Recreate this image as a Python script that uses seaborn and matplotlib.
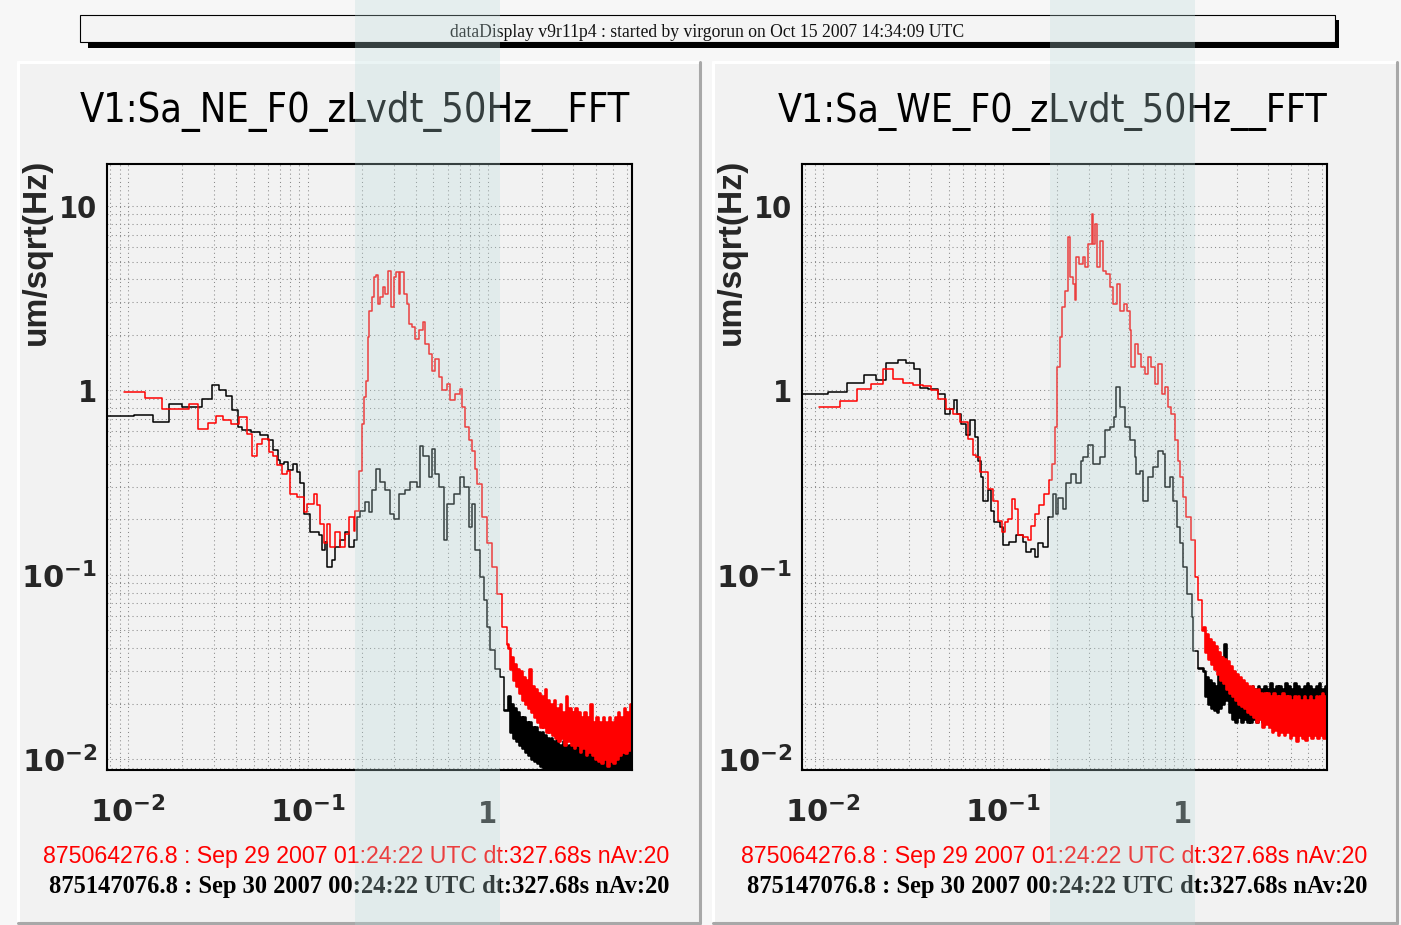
import matplotlib
matplotlib.use("Agg")
import numpy as np
import pandas as pd
import seaborn as sns
import matplotlib.pyplot as plt
from matplotlib import font_manager as fm
from matplotlib.patches import Rectangle
from matplotlib.lines import Line2D
from matplotlib.ticker import FixedLocator, FixedFormatter, LogLocator, NullFormatter

# ---------------------------------------------------------------- data
HEADER = "dataDisplay v9r11p4 : started by virgorun on Oct 15 2007 14:34:09 UTC"
TITLES = ["V1:Sa_NE_F0_zLvdt_50Hz__FFT", "V1:Sa_WE_F0_zLvdt_50Hz__FFT"]
REF_LINE = "875064276.8 : Sep 29 2007 01:24:22 UTC dt:327.68s nAv:20"
CUR_LINE = "875147076.8 : Sep 30 2007 00:24:22 UTC dt:327.68s nAv:20"
Y_LABEL = "um/sqrt(Hz)"

X_MAJOR = [0.01, 0.1, 1.0]
X_LABELS = [r"$\mathbf{10^{-2}}$", r"$\mathbf{10^{-1}}$", "1"]
Y_MAJOR = [0.01, 0.1, 1.0, 10.0]
Y_LABELS = [r"$\mathbf{10^{-2}}$", r"$\mathbf{10^{-1}}$", "1", "10"]

# NE sensor, Sep 30 spectrum (black)
ne_black_hz = [0.00765, 0.0108, 0.0137, 0.0169, 0.0200, 0.0259, 0.0294, 0.0323, 0.0352, 0.0380,
               0.0408, 0.0432, 0.0481, 0.0546, 0.0600, 0.0640, 0.0680, 0.0705, 0.0740, 0.0780,
               0.0830, 0.0873, 0.0911, 0.0950, 0.1035, 0.1150, 0.1200, 0.1240, 0.1280, 0.1370,
               0.1425, 0.1520, 0.1620, 0.1690, 0.1800, 0.1880, 0.1960, 0.2090, 0.2180, 0.2280,
               0.2410, 0.2530, 0.2700, 0.2880, 0.3010, 0.3200, 0.3490, 0.3720, 0.4050, 0.4230,
               0.4400, 0.4700, 0.4910, 0.5120, 0.5340, 0.5690, 0.5950, 0.6480, 0.7050, 0.7360,
               0.7840, 0.8190, 0.8550, 0.9110, 0.9500, 0.9920, 1.0350, 1.1000, 1.1800, 1.2300]
ne_black_amp = [0.726, 0.738, 0.673, 0.847, 0.812, 0.900, 1.065, 1.000, 0.928, 0.780,
                0.632, 0.607, 0.594, 0.570, 0.536, 0.473, 0.420, 0.400, 0.410, 0.370,
                0.400, 0.360, 0.313, 0.215, 0.170, 0.164, 0.136, 0.150, 0.110, 0.120,
                0.141, 0.154, 0.170, 0.141, 0.154, 0.205, 0.223, 0.248, 0.219, 0.287,
                0.376, 0.318, 0.287, 0.214, 0.201, 0.275, 0.287, 0.318, 0.299, 0.500,
                0.440, 0.339, 0.483, 0.354, 0.299, 0.154, 0.243, 0.275, 0.339, 0.300,
                0.181, 0.243, 0.136, 0.097, 0.0727, 0.052, 0.039, 0.031, 0.028, 0.0185]

# NE sensor, Sep 29 spectrum (red)
ne_red_hz = [0.0095, 0.0125, 0.0155, 0.0218, 0.0246, 0.0278, 0.0307, 0.0339, 0.0372, 0.0414,
             0.0460, 0.0487, 0.0524, 0.0557, 0.0607, 0.0640, 0.0676, 0.0721, 0.0770, 0.0801,
             0.0873, 0.0950, 0.0992, 0.1080, 0.1126, 0.1176, 0.1228, 0.1280, 0.1337, 0.1425,
             0.1520, 0.1620, 0.1690, 0.1800, 0.1840, 0.1920, 0.2004, 0.2064, 0.2117, 0.2161,
             0.2205, 0.2277, 0.2325, 0.2397, 0.2450, 0.2533, 0.2620, 0.2700, 0.2812, 0.2904,
             0.3004, 0.3107, 0.3205, 0.3275, 0.3415, 0.3566, 0.3637, 0.3797, 0.3966, 0.4138,
             0.4372, 0.4507, 0.4702, 0.4910, 0.5126, 0.5343, 0.5580, 0.5946, 0.6206, 0.6614,
             0.6988, 0.7205, 0.7518, 0.7843, 0.8190, 0.8544, 0.8728, 0.9309, 0.9923, 1.058,
             1.128, 1.202, 1.281]
ne_red_amp = [0.979, 0.912, 0.795, 0.847, 0.620, 0.665, 0.726, 0.694, 0.660, 0.716,
              0.582, 0.439, 0.514, 0.543, 0.463, 0.440, 0.392, 0.353, 0.368, 0.275,
              0.264, 0.219, 0.243, 0.275, 0.238, 0.189, 0.148, 0.189, 0.141, 0.170,
              0.141, 0.167, 0.205, 0.174, 0.223, 0.368, 0.660, 0.920, 1.13, 1.95,
              2.71, 3.20, 4.12, 4.21, 2.95, 3.20, 3.63, 3.34, 4.47, 2.83,
              4.12, 4.38, 3.34, 4.38, 3.34, 2.95, 2.30, 2.20, 1.91, 2.12,
              2.35, 1.79, 1.58, 1.28, 1.49, 1.18, 1.00, 1.09, 0.883, 0.96,
              1.02, 0.812, 0.632, 0.536, 0.472, 0.376, 0.312, 0.205, 0.148, 0.110,
              0.079, 0.052, 0.042]

# WE sensor, Sep 30 spectrum (black)
we_black_hz = [0.00765, 0.0107, 0.0136, 0.0169, 0.0198, 0.0225, 0.0261, 0.0291, 0.0320, 0.0348,
               0.0384, 0.0437, 0.0476, 0.0507, 0.0534, 0.0556, 0.0589, 0.0627, 0.0661, 0.0697,
               0.0727, 0.0760, 0.0775, 0.0830, 0.0862, 0.0900, 0.0962, 0.1000, 0.1090, 0.1190,
               0.1300, 0.1350, 0.1440, 0.1510, 0.1570, 0.1670, 0.1780, 0.1900, 0.1990, 0.2040,
               0.2166, 0.2262, 0.2410, 0.2568, 0.2737, 0.2794, 0.2978, 0.3174, 0.3461, 0.3689,
               0.3931, 0.4138, 0.4288, 0.4480, 0.4775, 0.5089, 0.5424, 0.5541, 0.5781, 0.6031,
               0.6427, 0.6850, 0.7300, 0.7780, 0.7971, 0.8495, 0.8865, 0.9261, 0.9660, 1.008,
               1.053, 1.122, 1.146, 1.221]
we_black_amp = [0.951, 0.979, 1.095, 1.22, 1.14, 1.41, 1.47, 1.41, 1.30, 1.03,
                1.02, 0.96, 0.741, 0.795, 0.89, 0.747, 0.66, 0.57, 0.688, 0.558,
                0.417, 0.339, 0.253, 0.287, 0.223, 0.193, 0.181, 0.145, 0.150, 0.164,
                0.150, 0.133, 0.138, 0.125, 0.148, 0.141, 0.205, 0.275, 0.214, 0.260,
                0.229, 0.313, 0.353, 0.313, 0.417, 0.435, 0.503, 0.400, 0.435, 0.607,
                0.632, 0.716, 1.04, 0.812, 0.632, 0.536, 0.435, 0.353, 0.368, 0.253,
                0.339, 0.384, 0.472, 0.453, 0.299, 0.339, 0.253, 0.181, 0.148, 0.110,
                0.079, 0.0594, 0.0389, 0.0314]

# WE sensor, Sep 29 spectrum (red)
we_red_hz = [0.0095, 0.0125, 0.0155, 0.0186, 0.0216, 0.0245, 0.0279, 0.0317, 0.0360, 0.0400,
             0.0436, 0.0482, 0.0529, 0.0576, 0.0642, 0.0683, 0.0713, 0.0745, 0.0830, 0.0884,
             0.0944, 0.0986, 0.1030, 0.1070, 0.1120, 0.1170, 0.1220, 0.1300, 0.1390, 0.1440,
             0.1510, 0.1600, 0.1700, 0.1800, 0.1870, 0.1950, 0.2000, 0.2076, 0.2134, 0.2216,
             0.2310, 0.2380, 0.2460, 0.2513, 0.2570, 0.2660, 0.2780, 0.2860, 0.2980, 0.3120,
             0.3190, 0.3260, 0.3350, 0.3470, 0.3610, 0.3770, 0.3940, 0.4110, 0.4320, 0.4480,
             0.4710, 0.4920, 0.5090, 0.5200, 0.5430, 0.5660, 0.5900, 0.6170, 0.6440, 0.6720,
             0.7010, 0.7320, 0.7640, 0.7970, 0.8320, 0.8680, 0.9060, 0.9450, 0.9660, 1.008,
             1.050, 1.120, 1.170, 1.220, 1.280]
we_red_amp = [0.812, 0.875, 1.02, 1.09, 1.31, 1.16, 1.10, 1.07, 1.06, 1.00,
              0.90, 0.795, 0.747, 0.673, 0.547, 0.444, 0.435, 0.360, 0.293, 0.253,
              0.197, 0.170, 0.193, 0.201, 0.258, 0.228, 0.164, 0.160, 0.154, 0.185,
              0.214, 0.238, 0.275, 0.325, 0.400, 0.632, 1.34, 1.95, 2.83, 3.48,
              6.82, 4.12, 3.79, 3.08, 5.29, 4.87, 5.29, 4.67, 6.24, 9.10,
              6.24, 8.00, 4.67, 6.50, 4.47, 4.30, 3.63, 2.95, 3.79, 2.71,
              2.95, 2.71, 2.12, 1.34, 1.79, 1.58, 1.34, 1.23, 1.52, 1.34,
              1.09, 1.40, 0.96, 1.04, 0.812, 0.747, 0.536, 0.417, 0.339, 0.263,
              0.205, 0.154, 0.097, 0.0727, 0.050]

# high-frequency noise floor, common frequency bins for all four spectra
tail_hz = [1.300, 1.326, 1.352, 1.378, 1.405, 1.433, 1.461, 1.490, 1.519, 1.549,
           1.580, 1.611, 1.643, 1.675, 1.708, 1.742, 1.776, 1.811, 1.847, 1.883,
           1.920, 1.958, 1.997, 2.036, 2.076, 2.117, 2.159, 2.201, 2.245, 2.289,
           2.334, 2.380, 2.427, 2.475, 2.524, 2.574, 2.624, 2.676, 2.729, 2.783,
           2.838, 2.894, 2.951, 3.009, 3.068, 3.129, 3.190, 3.253, 3.317, 3.383,
           3.449, 3.517, 3.587, 3.657, 3.729, 3.803, 3.878, 3.955, 4.033, 4.112,
           4.193, 4.276, 4.360, 4.446, 4.534, 4.623, 4.714, 4.807, 4.902, 4.999,
           5.097, 5.198, 5.300, 5.405, 5.511, 5.620, 5.731, 5.844, 5.959, 6.076,
           6.196, 6.318]
ne_red_tail = [0.040, 0.031, 0.036, 0.027, 0.033, 0.025, 0.031, 0.023, 0.030, 0.021,
               0.028, 0.020, 0.027, 0.019, 0.031, 0.018, 0.025, 0.017, 0.024, 0.016,
               0.023, 0.015, 0.022, 0.015, 0.024, 0.014, 0.021, 0.014, 0.020, 0.0135,
               0.021, 0.013, 0.019, 0.0125, 0.020, 0.013, 0.018, 0.012, 0.022, 0.0125,
               0.019, 0.012, 0.018, 0.0115, 0.019, 0.012, 0.018, 0.011, 0.017, 0.0115,
               0.018, 0.0105, 0.017, 0.011, 0.020, 0.0105, 0.016, 0.010, 0.017, 0.0098,
               0.016, 0.0095, 0.017, 0.010, 0.016, 0.0092, 0.017, 0.0098, 0.016, 0.0095,
               0.017, 0.010, 0.018, 0.0105, 0.017, 0.011, 0.019, 0.0108, 0.018, 0.0112,
               0.020, 0.012]
ne_black_tail = [0.022, 0.014, 0.020, 0.013, 0.019, 0.0125, 0.018, 0.012, 0.017, 0.0115,
                 0.017, 0.011, 0.016, 0.0105, 0.016, 0.010, 0.015, 0.0098, 0.015, 0.0095,
                 0.014, 0.0092, 0.014, 0.0090, 0.0135, 0.0088, 0.013, 0.0086, 0.013, 0.0085,
                 0.0125, 0.0084, 0.013, 0.0085, 0.012, 0.0083, 0.0125, 0.0084, 0.012, 0.0082,
                 0.012, 0.0083, 0.0118, 0.0082, 0.012, 0.0084, 0.0115, 0.0082, 0.0118, 0.0083,
                 0.0115, 0.0082, 0.012, 0.0083, 0.0114, 0.0082, 0.0116, 0.0083, 0.0113, 0.0082,
                 0.0115, 0.0083, 0.0112, 0.0082, 0.0116, 0.0084, 0.0113, 0.0082, 0.0115, 0.0083,
                 0.0116, 0.0084, 0.0114, 0.0083, 0.0118, 0.0085, 0.0116, 0.0084, 0.012, 0.0086,
                 0.0125, 0.0090]
we_red_tail = [0.052, 0.038, 0.048, 0.035, 0.045, 0.033, 0.043, 0.031, 0.041, 0.029,
               0.038, 0.027, 0.036, 0.026, 0.035, 0.024, 0.034, 0.023, 0.032, 0.022,
               0.030, 0.021, 0.029, 0.020, 0.028, 0.0195, 0.027, 0.019, 0.026, 0.018,
               0.025, 0.0175, 0.025, 0.017, 0.024, 0.016, 0.024, 0.0165, 0.023, 0.015,
               0.023, 0.0155, 0.023, 0.015, 0.022, 0.014, 0.023, 0.0145, 0.022, 0.0135,
               0.022, 0.014, 0.023, 0.0135, 0.022, 0.014, 0.022, 0.013, 0.021, 0.0135,
               0.022, 0.0125, 0.022, 0.0135, 0.021, 0.013, 0.022, 0.0128, 0.021, 0.0135,
               0.022, 0.013, 0.021, 0.0135, 0.022, 0.013, 0.022, 0.0135, 0.023, 0.013,
               0.022, 0.0135]
we_black_tail = [0.030, 0.022, 0.028, 0.020, 0.027, 0.019, 0.026, 0.0185, 0.025, 0.018,
                 0.031, 0.019, 0.036, 0.020, 0.042, 0.021, 0.030, 0.018, 0.026, 0.0165,
                 0.025, 0.016, 0.026, 0.017, 0.025, 0.016, 0.024, 0.0165, 0.025, 0.016,
                 0.024, 0.016, 0.025, 0.0165, 0.024, 0.016, 0.025, 0.017, 0.024, 0.016,
                 0.025, 0.0165, 0.024, 0.016, 0.026, 0.017, 0.024, 0.016, 0.025, 0.0165,
                 0.025, 0.017, 0.024, 0.016, 0.026, 0.0165, 0.025, 0.016, 0.024, 0.017,
                 0.026, 0.0165, 0.025, 0.016, 0.024, 0.017, 0.025, 0.016, 0.026, 0.0165,
                 0.025, 0.016, 0.024, 0.017, 0.025, 0.016, 0.026, 0.0165, 0.024, 0.016,
                 0.025, 0.015]

# ---------------------------------------------------------------- style
W, H, DPI = 1401, 925, 100
X_LIM = (0.00765, 6.36)
Y_LIM = (0.00875, 16.9)
PAD_BG = "#f2f2f2"
OUT_BG = "#f7f7f7"
RED = "#ff0000"
BLACK = "#000000"
LW_MAIN = 1.1
LW_TAIL = 1.9

sns.set_style("white")
_names = {f.name for f in fm.fontManager.ttflist}
HAS_NARROW = "Liberation Sans Narrow" in _names
NARROW = "Liberation Sans Narrow" if HAS_NARROW else "DejaVu Sans"
STRETCH = "normal" if HAS_NARROW else "condensed"
SANS = "Liberation Sans" if "Liberation Sans" in _names else "DejaVu Sans"
SERIF = "Liberation Serif" if "Liberation Serif" in _names else "DejaVu Serif"

plt.rcParams.update({
    "font.family": [SANS, "DejaVu Sans"],
    "mathtext.fontset": "custom",
    "mathtext.rm": NARROW,
    "mathtext.bf": f"{NARROW}:bold",
    "axes.unicode_minus": True,
})


def fx(px):
    return px / W


def fy(py):
    return 1.0 - py / H


def spectrum(hz, amp, tail_amp):
    """Low-frequency part and noise-floor part of one spectrum; the noise part
    starts from the last low-frequency bin so the step curve stays connected."""
    if len(hz) != len(amp) or len(tail_hz) != len(tail_amp):
        raise ValueError("length mismatch")
    main = pd.DataFrame({"hz": hz, "amp": amp})
    tail = pd.DataFrame({"hz": [hz[-1]] + tail_hz, "amp": [amp[-1]] + tail_amp})
    return main, tail


def draw_spectrum(ax, parts, color):
    main, tail = parts
    sns.lineplot(data=main, x="hz", y="amp", ax=ax, color=color, lw=LW_MAIN,
                 drawstyle="steps-post", estimator=None, sort=False, legend=False)
    sns.lineplot(data=tail, x="hz", y="amp", ax=ax, color=color, lw=LW_TAIL,
                 drawstyle="steps-post", estimator=None, sort=False, legend=False)


fig = plt.figure(figsize=(W / DPI, H / DPI), dpi=DPI, facecolor=OUT_BG)

# pads with bevelled borders
for x0, x1 in [(18, 700), (713, 1397)]:
    y0, y1 = 62, 923
    fig.add_artist(Rectangle((fx(x0), fy(y1)), fx(x1) - fx(x0), fy(y0) - fy(y1),
                             transform=fig.transFigure, facecolor=PAD_BG, edgecolor="none", zorder=-5))
    for xs, ys, c in [((x0, x1), (y0, y0), "#ffffff"), ((x0, x0), (y0, y1), "#ffffff"),
                      ((x0, x1), (y1, y1), "#a8a8a8"), ((x1, x1), (y0, y1), "#a8a8a8")]:
        fig.add_artist(Line2D([fx(v) for v in xs], [fy(v) for v in ys], transform=fig.transFigure,
                              color=c, lw=2.2, zorder=-4))

# header box with drop shadow
fig.add_artist(Rectangle((fx(88), fy(48)), fx(1339) - fx(88), fy(20) - fy(48),
                         transform=fig.transFigure, facecolor="black", edgecolor="none", zorder=-3))
fig.add_artist(Rectangle((fx(80), fy(42)), fx(1335) - fx(80), fy(15) - fy(42),
                         transform=fig.transFigure, facecolor="#f4f4f4", edgecolor="black", lw=0.8, zorder=-2))
header = fig.text(fx(707), fy(37), HEADER, ha="center", va="baseline", family=SERIF, fontsize=11, color="#111111")

panels = [
    dict(left=107, title=TITLES[0], tx=355,
         black=spectrum(ne_black_hz, ne_black_amp, ne_black_tail),
         red=spectrum(ne_red_hz, ne_red_amp, ne_red_tail)),
    dict(left=802, title=TITLES[1], tx=1053,
         black=spectrum(we_black_hz, we_black_amp, we_black_tail),
         red=spectrum(we_red_hz, we_red_amp, we_red_tail)),
]

fits = []
for p in panels:
    ax = fig.add_axes([fx(p["left"]), fy(770), 525 / W, (770 - 164) / H])
    ax.set_facecolor(PAD_BG)
    ax.set_xscale("log")
    ax.set_yscale("log")
    draw_spectrum(ax, p["black"], BLACK)
    draw_spectrum(ax, p["red"], RED)
    ax.set_xlim(*X_LIM)
    ax.set_ylim(*Y_LIM)

    ax.xaxis.set_major_locator(FixedLocator(X_MAJOR))
    ax.xaxis.set_major_formatter(FixedFormatter(X_LABELS))
    ax.xaxis.set_minor_locator(LogLocator(base=10, subs=np.arange(2, 10)))
    ax.xaxis.set_minor_formatter(NullFormatter())
    ax.yaxis.set_major_locator(FixedLocator(Y_MAJOR))
    ax.yaxis.set_major_formatter(FixedFormatter(Y_LABELS))
    ax.yaxis.set_minor_locator(LogLocator(base=10, subs=np.arange(2, 10)))
    ax.yaxis.set_minor_formatter(NullFormatter())

    ax.grid(True, which="both", color="#8a8a8a", linestyle=(0, (1, 3)), lw=0.75)
    ax.set_axisbelow(True)
    ax.tick_params(which="both", direction="in", top=False, right=False, color="black", width=1.1)
    ax.tick_params(axis="x", which="major", length=14.4, pad=38)
    ax.tick_params(axis="x", which="minor", length=7.2)
    ax.tick_params(axis="y", which="major", length=9.4, pad=7)
    ax.tick_params(axis="y", which="minor", length=5)
    for lab in ax.get_xticklabels() + ax.get_yticklabels():
        lab.set_family(NARROW)
        lab.set_fontweight("bold")
        lab.set_fontstretch(STRETCH)
        lab.set_fontsize(22)
    for lab in ax.get_xticklabels():
        lab.set_verticalalignment("baseline")
    for s in ax.spines.values():
        s.set_color("black")
        s.set_linewidth(1.5)

    ax.set_xlabel("")
    ax.set_ylabel(Y_LABEL, family=SANS, fontweight="bold", fontsize=17)
    ax.yaxis.set_label_coords(-55 / 525, 0.855)

    t = fig.text(fx(p["tx"]), fy(121.7), p["title"], ha="center", va="baseline",
                 family=NARROW, fontstretch=STRETCH, fontsize=32, color="black")
    r = fig.text(fx(p["tx"] + 1), fy(863), REF_LINE, ha="center", va="baseline",
                 family=SANS, fontsize=17, color=RED)
    b = fig.text(fx(p["tx"] + 4), fy(893), CUR_LINE, ha="center", va="baseline",
                 family=SERIF, fontweight="bold", fontsize=18, color="black")
    fits += [(t, 552, "w"), (r, 628, "w"), (b, 622, "w"), (ax.yaxis.label, 187, "h")]

fits.append((header, 516, "w"))

# size texts to their boxes
fig.canvas.draw()
rend = fig.canvas.get_renderer()
for txt, target, dim in fits:
    bb = txt.get_window_extent(rend)
    cur = bb.width if dim == "w" else bb.height
    if cur > 0:
        txt.set_fontsize(txt.get_fontsize() * target / cur)

# highlighted frequency band across the display
for x0, x1 in [(355, 500), (1050, 1195)]:
    fig.add_artist(Rectangle((fx(x0), 0), fx(x1) - fx(x0), 1, transform=fig.transFigure,
                             facecolor=(0.73, 0.86, 0.86), alpha=0.29, edgecolor="none", zorder=50))

fig.savefig("out.png", dpi=DPI, facecolor=fig.get_facecolor())
